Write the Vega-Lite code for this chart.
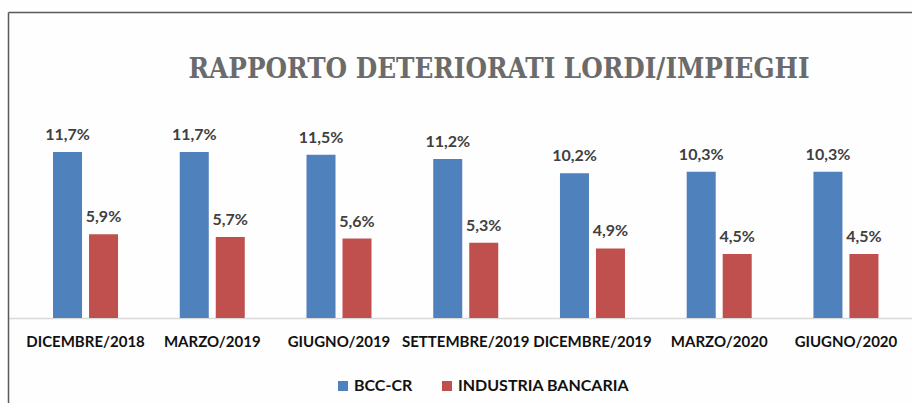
{
  "$schema": "https://vega.github.io/schema/vega-lite/v6.json",
  "autosize": "none",
  "width": 904,
  "height": 391,
  "padding": {"left": 8, "top": 12, "right": 0, "bottom": 0},
  "background": "#fefefe",
  "config": {
    "view": {"stroke": null},
    "locale": {"number": {"decimal": ",", "thousands": ".", "grouping": [3], "currency": ["€", ""]}}
  },
  "title": {
    "text": "RAPPORTO DETERIORATI LORDI/IMPIEGHI",
    "anchor": "middle",
    "frame": "group",
    "orient": "top",
    "offset": 0,
    "baseline": "middle",
    "dx": 39,
    "dy": 85,
    "font": "DejaVu Serif Condensed",
    "fontSize": 27.5,
    "fontWeight": "bold",
    "color": "#6b6b6b"
  },
  "data": {
    "values": [
      {"period": "DICEMBRE/2018", "series": "BCC-CR", "value": 0.117},
      {"period": "DICEMBRE/2018", "series": "INDUSTRIA BANCARIA", "value": 0.059},
      {"period": "MARZO/2019", "series": "BCC-CR", "value": 0.117},
      {"period": "MARZO/2019", "series": "INDUSTRIA BANCARIA", "value": 0.057},
      {"period": "GIUGNO/2019", "series": "BCC-CR", "value": 0.115},
      {"period": "GIUGNO/2019", "series": "INDUSTRIA BANCARIA", "value": 0.056},
      {"period": "SETTEMBRE/2019", "series": "BCC-CR", "value": 0.112},
      {"period": "SETTEMBRE/2019", "series": "INDUSTRIA BANCARIA", "value": 0.053},
      {"period": "DICEMBRE/2019", "series": "BCC-CR", "value": 0.102},
      {"period": "DICEMBRE/2019", "series": "INDUSTRIA BANCARIA", "value": 0.049},
      {"period": "MARZO/2020", "series": "BCC-CR", "value": 0.103},
      {"period": "MARZO/2020", "series": "INDUSTRIA BANCARIA", "value": 0.045},
      {"period": "GIUGNO/2020", "series": "BCC-CR", "value": 0.103},
      {"period": "GIUGNO/2020", "series": "INDUSTRIA BANCARIA", "value": 0.045}
    ]
  },
  "encoding": {
    "x": {
      "field": "period",
      "type": "nominal",
      "sort": null,
      "scale": {"paddingInner": 0.487, "paddingOuter": 0.31, "align": 0.573},
      "axis": {
        "orient": "bottom",
        "offset": -85,
        "title": null,
        "labelAngle": 0,
        "ticks": false,
        "tickSize": 0,
        "labelPadding": 16,
        "labelFont": "Lato",
        "labelFontSize": 15,
        "labelFontWeight": "bold",
        "labelColor": "#111111",
        "domainColor": "#d9d9d9",
        "domainWidth": 1.5,
        "grid": false
      }
    },
    "xOffset": {
      "field": "series",
      "type": "nominal",
      "sort": null,
      "scale": {"paddingInner": 0.194, "paddingOuter": 0}
    },
    "y": {
      "field": "value",
      "type": "quantitative",
      "scale": {"domain": [-0.0599, 0.2156], "nice": false, "zero": false},
      "axis": {
        "title": null,
        "labels": false,
        "ticks": false,
        "grid": true,
        "values": [0.2156],
        "gridColor": "#5a5a5a",
        "gridWidth": 1.5,
        "gridOpacity": 1,
        "domainColor": "#5a5a5a",
        "domainWidth": 1.5
      }
    }
  },
  "layer": [
    {
      "mark": {"type": "bar"},
      "encoding": {
        "color": {
          "field": "series",
          "type": "nominal",
          "sort": null,
          "scale": {"domain": ["BCC-CR", "INDUSTRIA BANCARIA"], "range": ["#4f81bd", "#c0504d"]},
          "legend": {
            "title": null,
            "orient": "none",
            "direction": "horizontal",
            "legendX": 327,
            "legendY": 366,
            "symbolType": "square",
            "symbolSize": 100,
            "symbolStrokeWidth": 0,
            "labelFont": "Lato",
            "labelFontSize": 16,
            "labelFontWeight": "bold",
            "labelColor": "#111111",
            "labelOffset": 3,
            "labelLimit": 400,
            "columnPadding": 26
          }
        }
      }
    },
    {
      "mark": {"type": "text", "baseline": "alphabetic", "dy": -12, "font": "Lato", "fontSize": 16, "fontWeight": "bold", "color": "#404040"},
      "encoding": {
        "text": {"field": "value", "type": "quantitative", "format": ".1%"}
      }
    }
  ]
}
